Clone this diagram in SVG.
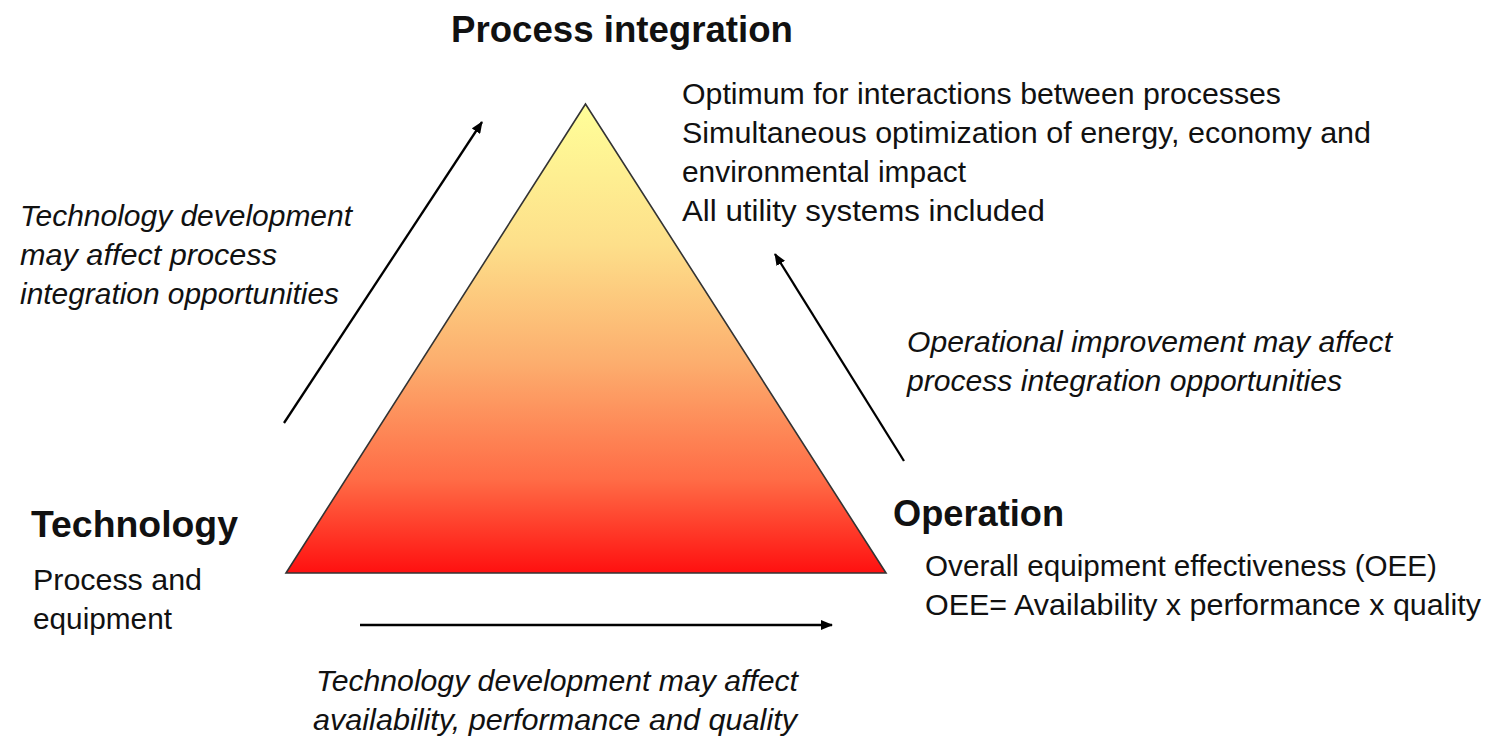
<svg xmlns="http://www.w3.org/2000/svg" width="1486" height="738" viewBox="0 0 1486 738">
  <defs>
    <linearGradient id="heat" x1="0" y1="0" x2="0" y2="1">
      <stop offset="0" stop-color="#FFFF99"/>
      <stop offset="0.3" stop-color="#FDDF8A"/>
      <stop offset="0.55" stop-color="#FCAE6E"/>
      <stop offset="0.8" stop-color="#FF6C46"/>
      <stop offset="1" stop-color="#FF1010"/>
    </linearGradient>
    <marker id="head" viewBox="0 0 12 10" refX="11" refY="5" markerWidth="12" markerHeight="10" markerUnits="userSpaceOnUse" orient="auto">
      <path d="M0,0 L12,5 L0,10 Z" fill="#000"/>
    </marker>
    <style>
      .t { font-family: "Liberation Sans", Arial, sans-serif; fill: #111; }
      .head { font-size: 36px; font-weight: bold; }
      .body { font-size: 30px; }
      .note { font-size: 30px; font-style: italic; }
      .arrow { stroke: #000; stroke-width: 2.3; fill: none; marker-end: url(#head); }
    </style>
  </defs>

  <rect width="1486" height="738" fill="#fff"/>

  <!-- central pyramid -->
  <g id="pyramid">
    <polygon points="585.5,104 286,573 886,573" fill="url(#heat)" stroke="#333" stroke-width="1.6" stroke-linejoin="miter"/>
  </g>

  <!-- apex: process integration -->
  <g id="process-integration">
    <text class="t head" x="451" y="42" textLength="342" lengthAdjust="spacingAndGlyphs">Process integration</text>
    <text class="t body" x="682" y="104" textLength="599" lengthAdjust="spacingAndGlyphs">Optimum for interactions between processes</text>
    <text class="t body" x="682" y="143" textLength="689" lengthAdjust="spacingAndGlyphs">Simultaneous optimization of energy, economy and</text>
    <text class="t body" x="682" y="182" textLength="284" lengthAdjust="spacingAndGlyphs">environmental impact</text>
    <text class="t body" x="682" y="221" textLength="363" lengthAdjust="spacingAndGlyphs">All utility systems included</text>
  </g>

  <!-- lower left corner: technology -->
  <g id="technology">
    <text class="t head" x="31" y="537" textLength="207" lengthAdjust="spacingAndGlyphs">Technology</text>
    <text class="t body" x="33" y="590" textLength="169" lengthAdjust="spacingAndGlyphs">Process and</text>
    <text class="t body" x="33" y="629" textLength="139" lengthAdjust="spacingAndGlyphs">equipment</text>
  </g>

  <!-- lower right corner: operation -->
  <g id="operation">
    <text class="t head" x="893" y="526" textLength="171" lengthAdjust="spacingAndGlyphs">Operation</text>
    <text class="t body" x="925" y="576" textLength="512" lengthAdjust="spacingAndGlyphs">Overall equipment effectiveness (OEE)</text>
    <text class="t body" x="925" y="615" textLength="556" lengthAdjust="spacingAndGlyphs">OEE= Availability x performance x quality</text>
  </g>

  <!-- influence arrows -->
  <g id="connectors">
    <line class="arrow" x1="284" y1="423" x2="482" y2="122"/>
    <line class="arrow" x1="904" y1="461" x2="775" y2="254"/>
    <line class="arrow" x1="360" y1="625" x2="832" y2="625"/>
  </g>

  <!-- arrow captions -->
  <g id="labels">
    <text class="t note" x="20" y="226" textLength="332" lengthAdjust="spacingAndGlyphs">Technology development</text>
    <text class="t note" x="20" y="265" textLength="257" lengthAdjust="spacingAndGlyphs">may affect process</text>
    <text class="t note" x="20" y="304" textLength="319" lengthAdjust="spacingAndGlyphs">integration opportunities</text>
    <text class="t note" x="907" y="352" textLength="485" lengthAdjust="spacingAndGlyphs">Operational improvement may affect</text>
    <text class="t note" x="907" y="391" textLength="435" lengthAdjust="spacingAndGlyphs">process integration opportunities</text>
    <text class="t note" x="316" y="691" textLength="482" lengthAdjust="spacingAndGlyphs">Technology development may affect</text>
    <text class="t note" x="313" y="730" textLength="484" lengthAdjust="spacingAndGlyphs">availability, performance and quality</text>
  </g>
</svg>
